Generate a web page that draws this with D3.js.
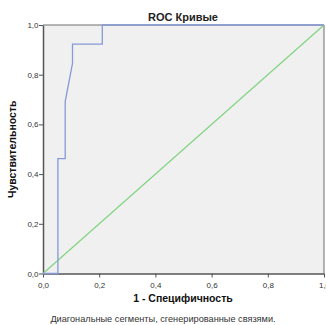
<!DOCTYPE html>
<html>
<head>
<meta charset="utf-8">
<script src="https://cdn.jsdelivr.net/npm/d3@7"></script>
<style>
  body { margin: 0; background: #fff; }
  text { font-family: "Liberation Sans", Arial, sans-serif; }
</style>
</head>
<body>
<script>
// ROC curve points (1 - specificity, sensitivity)
var rocX = [0, 0.053, 0.053, 0.079, 0.079, 0.105, 0.105, 0.211, 0.211, 1];
var rocY = [0, 0, 0.462, 0.462, 0.692, 0.846, 0.923, 0.923, 1, 1];
// reference line
var refX = [0, 1];
var refY = [0, 1];
var tickValues = [0, 0.2, 0.4, 0.6, 0.8, 1.0];

var svg = d3.select("body").append("svg").attr("width", 326).attr("height", 325);

// plot area edges
var pLeft = 43, pRight = 324, pTop = 25, pBottom = 273.5;
var x = d3.scaleLinear().domain([0, 1]).range([pLeft, pRight]);
var y = d3.scaleLinear().domain([0, 1]).range([pBottom, pTop]);
var fmt = function(d) { return d3.format(".1f")(d).replace(".", ","); };

// plot background
svg.append("rect")
    .attr("x", pLeft).attr("y", pTop)
    .attr("width", pRight - pLeft).attr("height", pBottom - pTop)
    .attr("fill", "#f0f0f0");

// axes
var xAxis = svg.append("g").attr("transform", "translate(0," + pBottom + ")")
    .call(d3.axisBottom(x).tickValues(tickValues).tickFormat(fmt).tickSize(4).tickSizeOuter(0));
var yAxis = svg.append("g").attr("transform", "translate(" + pLeft + ",0)")
    .call(d3.axisLeft(y).tickValues(tickValues).tickFormat(fmt).tickSize(4).tickSizeOuter(0));
[xAxis, yAxis].forEach(function(a) {
    a.select(".domain").attr("stroke", "#555").attr("stroke-width", 1.5);
    a.selectAll(".tick line").attr("stroke", "#555");
    a.selectAll(".tick text").attr("fill", "#333").style("font-size", "8px");
});
xAxis.selectAll(".tick text").attr("dy", "0.9em");
yAxis.selectAll(".tick text").attr("x", -4.5);

// top and right border
svg.append("path")
    .attr("d", "M" + pLeft + "," + pTop + "H" + pRight + "V" + pBottom)
    .attr("fill", "none").attr("stroke", "#6f6f6f").attr("stroke-width", 1);

var line = d3.line().x(function(d) { return x(d[0]); }).y(function(d) { return y(d[1]); });

// diagonal
svg.append("path")
    .datum(d3.zip(refX, refY))
    .attr("d", line)
    .attr("fill", "none").attr("stroke", "#80d480").attr("stroke-width", 1.2);

// ROC curve
svg.append("path")
    .datum(d3.zip(rocX, rocY))
    .attr("d", line)
    .attr("fill", "none").attr("stroke", "#8799d6").attr("stroke-width", 1.3);

// title and labels
svg.append("text").text("ROC Кривые")
    .attr("x", 183).attr("y", 21).attr("text-anchor", "middle")
    .style("font-size", "11px").style("font-weight", "bold").attr("fill", "#222");
svg.append("text").text("1 - Специфичность")
    .attr("x", 183).attr("y", 302).attr("text-anchor", "middle")
    .style("font-size", "10.5px").style("font-weight", "bold").attr("fill", "#111");
svg.append("text").text("Чувствительность")
    .attr("transform", "translate(16," + ((pTop + pBottom) / 2) + ") rotate(-90)")
    .attr("text-anchor", "middle")
    .style("font-size", "10.5px").style("font-weight", "bold").attr("fill", "#111");
svg.append("text").text("Диагональные сегменты, сгенерированные связями.")
    .attr("x", 163).attr("y", 322).attr("text-anchor", "middle")
    .style("font-size", "9.2px").attr("fill", "#333");
</script>
</body>
</html>
